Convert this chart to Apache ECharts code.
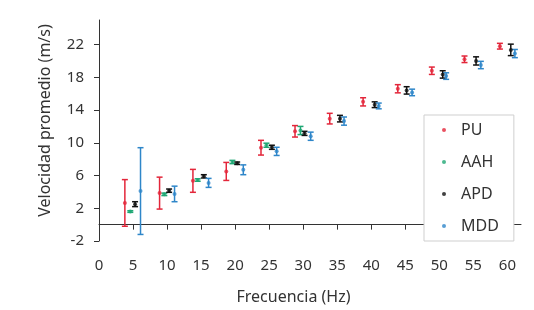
<!DOCTYPE html>
<html>
<head>
<meta charset="utf-8">
<script src="https://cdn.jsdelivr.net/npm/echarts@6/dist/echarts.min.js"></script>
<style>
html, body { margin: 0; padding: 0; background: #fff; }
#main { width: 534px; height: 310px; }
</style>
</head>
<body>
<div id="main"></div>
<script>
// frecuencias (posicion x de cada punto)
var xPU  = [3.8, 8.9, 13.8, 18.7, 23.8, 28.8, 33.9, 38.8, 43.9, 48.9, 53.7, 58.9];
var xAAH = [4.6, 9.6, 14.5, 19.6, 24.6, 29.6];
var xAPD = [5.3, 10.3, 15.4, 20.3, 25.4, 30.2, 35.4, 40.5, 45.2, 50.5, 55.4, 60.5];
var xMDD = [6.1, 11.1, 16.1, 21.2, 26.1, 31.1, 36.0, 41.1, 46.0, 51.0, 56.1, 61.1];

// velocidad promedio (m/s)
var yPU  = [2.65, 3.85, 5.35, 6.5, 9.4, 11.4, 12.95, 15.0, 16.6, 18.8, 20.2, 21.8];
var yAAH = [1.6, 3.7, 5.45, 7.65, 9.7, 11.5];
var yAPD = [2.5, 4.15, 5.9, 7.5, 9.45, 11.15, 12.95, 14.65, 16.4, 18.35, 20.0, 21.35];
var yMDD = [4.1, 3.75, 5.1, 6.7, 8.95, 10.8, 12.65, 14.5, 16.15, 18.15, 19.5, 20.9];

// barras de error (+/-)
var ePU  = [2.85, 1.95, 1.4, 1.1, 0.9, 0.7, 0.65, 0.5, 0.5, 0.45, 0.4, 0.35];
var eAAH = [0.1, 0.15, 0.15, 0.2, 0.25, 0.5];
var eAPD = [0.3, 0.2, 0.2, 0.15, 0.25, 0.25, 0.4, 0.35, 0.45, 0.45, 0.5, 0.7];
var eMDD = [5.3, 0.95, 0.55, 0.6, 0.5, 0.5, 0.5, 0.35, 0.4, 0.4, 0.45, 0.5];

var names = ['PU', 'AAH', 'APD', 'MDD'];
var colors = ['#e3263a', '#1fa774', '#111111', '#2e86c9'];
var fontFam = 'Noto Sans';

function puntos(xs, ys) {
    var arr = [];
    for (var i = 0; i < xs.length; i++) {
        arr.push([xs[i], ys[i]]);
    }
    return arr;
}
function errores(xs, ys, es) {
    var arr = [];
    for (var i = 0; i < xs.length; i++) {
        arr.push([xs[i], ys[i] - es[i], ys[i] + es[i]]);
    }
    return arr;
}
function dibujaError(params, api) {
    var x = api.value(0);
    var lo = api.coord([x, api.value(1)]);
    var hi = api.coord([x, api.value(2)]);
    var w = 3;
    var st = { stroke: api.visual('color'), lineWidth: 1.5, fill: null };
    return {
        type: 'group',
        children: [
            { type: 'line', shape: { x1: lo[0], y1: lo[1], x2: hi[0], y2: hi[1] }, style: st },
            { type: 'line', shape: { x1: lo[0] - w, y1: lo[1], x2: lo[0] + w, y2: lo[1] }, style: st },
            { type: 'line', shape: { x1: hi[0] - w, y1: hi[1], x2: hi[0] + w, y2: hi[1] }, style: st }
        ]
    };
}

var xs = [xPU, xAAH, xAPD, xMDD];
var ys = [yPU, yAAH, yAPD, yMDD];
var es = [ePU, eAAH, eAPD, eMDD];
var series = [];
for (var k = 0; k < 4; k++) {
    series.push({
        name: names[k],
        type: 'scatter',
        symbol: 'circle',
        symbolSize: 4,
        z: 4,
        itemStyle: { color: colors[k] },
        data: puntos(xs[k], ys[k])
    });
}
for (var k = 0; k < 4; k++) {
    series.push({
        name: names[k],
        type: 'custom',
        z: 3,
        itemStyle: { color: colors[k] },
        renderItem: dibujaError,
        encode: { x: 0, y: [1, 2] },
        data: errores(xs[k], ys[k], es[k])
    });
}

var myChart = echarts.init(document.getElementById('main'), null, { renderer: 'canvas' });
var option = {
    animation: false,
    backgroundColor: '#fff',
    textStyle: { fontFamily: fontFam },
    grid: { left: 99, right: 13, top: 20, bottom: 50, containLabel: false },
    legend: {
        data: names,
        orient: 'vertical',
        left: 424,
        top: 115,
        icon: 'circle',
        itemWidth: 4,
        itemHeight: 4,
        itemGap: 16,
        padding: [7, 15, 7, 18],
        borderColor: '#cfcfcf',
        borderWidth: 1,
        backgroundColor: '#fff',
        textStyle: { fontFamily: fontFam, fontSize: 16, color: '#333', padding: [0, 0, 0, 10] }
    },
    xAxis: {
        type: 'value',
        min: 0,
        max: 62,
        interval: 5,
        name: 'Frecuencia (Hz)',
        nameLocation: 'middle',
        nameGap: 48,
        nameTextStyle: { fontFamily: fontFam, fontSize: 16, color: '#333', padding: [0, 33, 0, 0] },
        axisLine: { onZero: true, lineStyle: { color: '#333', width: 1 } },
        axisTick: { show: true, length: 5, lineStyle: { color: '#333' } },
        axisLabel: { margin: 17, fontSize: 15, color: '#333', showMaxLabel: false },
        splitLine: { show: false }
    },
    yAxis: {
        type: 'value',
        min: -2,
        max: 25,
        interval: 4,
        name: 'Velocidad promedio (m/s)',
        nameLocation: 'middle',
        nameGap: 46,
        nameTextStyle: { fontFamily: fontFam, fontSize: 16, color: '#333', padding: [0, 0, 0, 20] },
        axisLine: { show: true, lineStyle: { color: '#333', width: 1 } },
        axisTick: { show: true, length: 5, lineStyle: { color: '#333' } },
        axisLabel: { margin: 15, fontSize: 15, color: '#333', showMaxLabel: false },
        splitLine: { show: false }
    },
    series: series
};
myChart.setOption(option);
</script>
</body>
</html>
